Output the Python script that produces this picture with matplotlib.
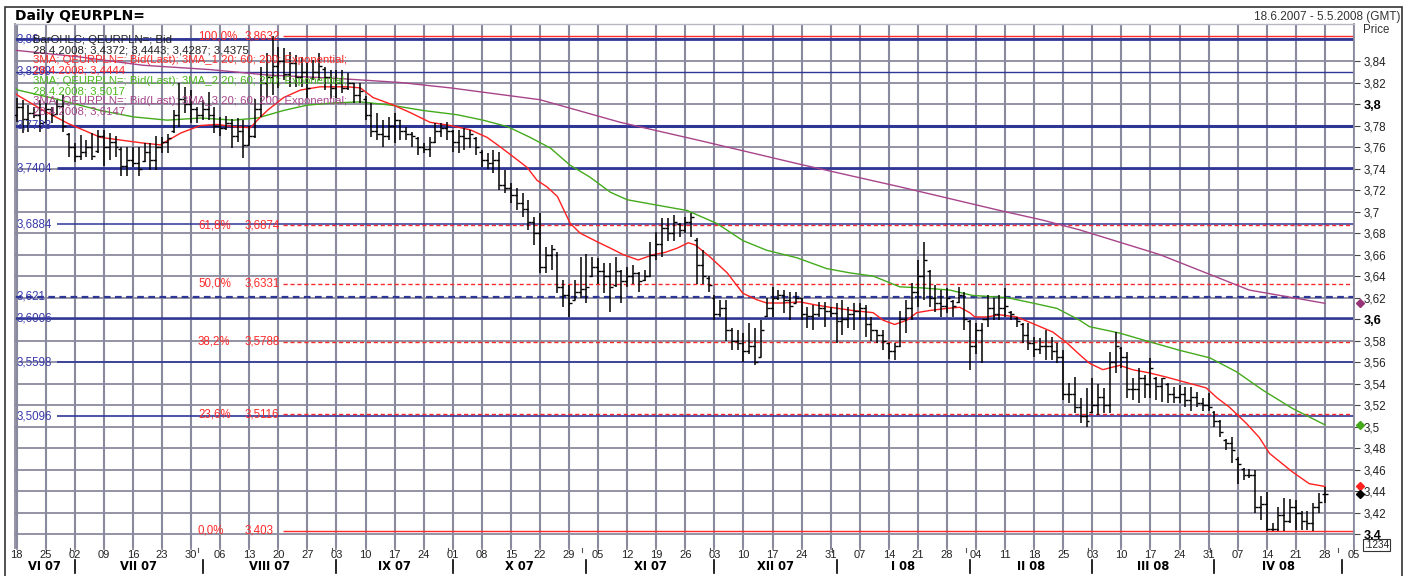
import numpy as np
import pandas as pd
import matplotlib
matplotlib.use("Agg")
import matplotlib.pyplot as plt
import matplotlib.transforms as mtransforms
from matplotlib.patches import Rectangle
from matplotlib.lines import Line2D

plt.rcParams['font.family'] = ['Liberation Sans', 'DejaVu Sans']

# ---------------- data ----------------
START = "2007-06-18"
END = "2008-04-28"
AXIS_END = "2008-05-05"

opens = [
    3.790, 3.797, 3.786, 3.792, 3.790,
    3.783, 3.795, 3.791, 3.798, 3.772,
    3.760, 3.752, 3.755, 3.760, 3.756,
    3.770, 3.760, 3.765, 3.758, 3.742,
    3.748, 3.745, 3.747, 3.755, 3.748,
    3.760, 3.765, 3.775, 3.790, 3.805,
    3.800, 3.795, 3.790, 3.795, 3.790,
    3.780, 3.778, 3.782, 3.770, 3.775,
    3.762, 3.770, 3.795, 3.820, 3.825,
    3.835, 3.840, 3.828, 3.838, 3.825,
    3.830, 3.824, 3.830, 3.833, 3.825,
    3.815, 3.820, 3.815, 3.820, 3.808,
    3.805, 3.790, 3.775, 3.772, 3.770,
    3.780, 3.785, 3.775, 3.772, 3.768,
    3.760, 3.758, 3.765, 3.775, 3.778,
    3.775, 3.765, 3.770, 3.768, 3.768,
    3.755, 3.748, 3.745, 3.748, 3.725,
    3.722, 3.715, 3.708, 3.702, 3.690,
    3.680, 3.648, 3.660, 3.660, 3.630,
    3.622, 3.618, 3.625, 3.628, 3.640,
    3.648, 3.645, 3.640, 3.632, 3.645,
    3.635, 3.640, 3.643, 3.636, 3.640,
    3.660, 3.670, 3.685, 3.680, 3.688,
    3.683, 3.690, 3.674, 3.650, 3.638,
    3.620, 3.605, 3.610, 3.590, 3.580,
    3.578, 3.570, 3.575, 3.565, 3.603,
    3.610, 3.620, 3.622, 3.618, 3.615,
    3.620, 3.605, 3.603, 3.605, 3.610,
    3.608, 3.606, 3.598, 3.600, 3.605,
    3.608, 3.610, 3.595, 3.590, 3.585,
    3.578, 3.570, 3.575, 3.600, 3.610,
    3.625, 3.640, 3.645, 3.620, 3.615,
    3.612, 3.617, 3.616, 3.622, 3.598,
    3.575, 3.590, 3.600, 3.610, 3.605,
    3.610, 3.607, 3.601, 3.595, 3.585,
    3.578, 3.572, 3.575, 3.575, 3.570,
    3.565, 3.530, 3.530, 3.518, 3.510,
    3.514, 3.520, 3.528, 3.520, 3.560,
    3.573, 3.565, 3.535, 3.535, 3.545,
    3.540, 3.545, 3.538, 3.540, 3.530,
    3.528, 3.530, 3.525, 3.528, 3.522,
    3.520, 3.514, 3.505, 3.488, 3.485,
    3.470, 3.461, 3.455, 3.455, 3.425,
    3.428, 3.405, 3.405, 3.418, 3.412,
    3.425, 3.420, 3.412, 3.410, 3.425,
    3.4372,
]
highs = [
    3.806, 3.804, 3.799, 3.797, 3.804,
    3.801, 3.797, 3.804, 3.808, 3.773,
    3.764, 3.771, 3.767, 3.773, 3.776,
    3.776, 3.773, 3.770, 3.760, 3.760,
    3.760, 3.760, 3.764, 3.764, 3.770,
    3.769, 3.772, 3.794, 3.820, 3.816,
    3.813, 3.797, 3.804, 3.811, 3.797,
    3.788, 3.789, 3.786, 3.787, 3.785,
    3.780, 3.805, 3.834, 3.847, 3.8632,
    3.853, 3.852, 3.848, 3.846, 3.844,
    3.838, 3.841, 3.847, 3.834, 3.832,
    3.832, 3.832, 3.829, 3.820, 3.820,
    3.807, 3.801, 3.792, 3.785, 3.788,
    3.792, 3.785, 3.779, 3.774, 3.769,
    3.764, 3.769, 3.782, 3.782, 3.783,
    3.776, 3.776, 3.778, 3.776, 3.769,
    3.757, 3.754, 3.757, 3.755, 3.739,
    3.727, 3.722, 3.717, 3.711, 3.695,
    3.699, 3.667, 3.669, 3.662, 3.636,
    3.632, 3.636, 3.658, 3.661, 3.658,
    3.657, 3.652, 3.652, 3.658, 3.646,
    3.648, 3.650, 3.644, 3.646, 3.672,
    3.681, 3.694, 3.694, 3.697, 3.689,
    3.695, 3.699, 3.675, 3.664, 3.640,
    3.622, 3.618, 3.618, 3.592, 3.590,
    3.587, 3.596, 3.592, 3.599, 3.620,
    3.630, 3.627, 3.627, 3.625, 3.625,
    3.620, 3.611, 3.613, 3.616, 3.616,
    3.611, 3.615, 3.618, 3.611, 3.615,
    3.615, 3.613, 3.602, 3.590, 3.590,
    3.578, 3.578, 3.608, 3.618, 3.634,
    3.655, 3.672, 3.646, 3.632, 3.627,
    3.629, 3.618, 3.630, 3.625, 3.599,
    3.596, 3.596, 3.622, 3.620, 3.622,
    3.629, 3.608, 3.602, 3.596, 3.596,
    3.583, 3.582, 3.590, 3.583, 3.578,
    3.571, 3.541, 3.546, 3.527, 3.536,
    3.545, 3.540, 3.536, 3.569, 3.588,
    3.574, 3.569, 3.545, 3.555, 3.548,
    3.564, 3.546, 3.545, 3.541, 3.537,
    3.539, 3.537, 3.537, 3.532, 3.527,
    3.531, 3.515, 3.506, 3.489, 3.490,
    3.472, 3.462, 3.461, 3.460, 3.436,
    3.439, 3.410, 3.425, 3.434, 3.433,
    3.432, 3.422, 3.422, 3.429, 3.438,
    3.4443,
]
lows = [
    3.783, 3.773, 3.774, 3.787, 3.774,
    3.782, 3.782, 3.790, 3.774, 3.751,
    3.746, 3.748, 3.751, 3.748, 3.754,
    3.742, 3.748, 3.751, 3.733, 3.733,
    3.741, 3.733, 3.746, 3.739, 3.739,
    3.754, 3.754, 3.773, 3.779, 3.792,
    3.782, 3.782, 3.785, 3.785, 3.773,
    3.770, 3.776, 3.759, 3.765, 3.750,
    3.762, 3.768, 3.788, 3.806, 3.808,
    3.815, 3.822, 3.816, 3.816, 3.816,
    3.806, 3.822, 3.822, 3.813, 3.806,
    3.806, 3.810, 3.813, 3.801, 3.801,
    3.785, 3.769, 3.767, 3.760, 3.767,
    3.764, 3.767, 3.767, 3.760, 3.753,
    3.754, 3.751, 3.764, 3.769, 3.767,
    3.755, 3.754, 3.757, 3.759, 3.753,
    3.741, 3.740, 3.736, 3.720, 3.717,
    3.708, 3.701, 3.695, 3.683, 3.669,
    3.643, 3.643, 3.646, 3.624, 3.611,
    3.602, 3.618, 3.620, 3.615, 3.639,
    3.633, 3.624, 3.607, 3.630, 3.615,
    3.630, 3.633, 3.625, 3.635, 3.639,
    3.655, 3.658, 3.673, 3.673, 3.676,
    3.680, 3.676, 3.633, 3.633, 3.625,
    3.599, 3.602, 3.580, 3.571, 3.571,
    3.560, 3.568, 3.557, 3.565, 3.602,
    3.602, 3.618, 3.606, 3.599, 3.615,
    3.599, 3.592, 3.590, 3.602, 3.593,
    3.602, 3.578, 3.585, 3.592, 3.590,
    3.599, 3.583, 3.580, 3.578, 3.571,
    3.563, 3.562, 3.574, 3.587, 3.599,
    3.611, 3.618, 3.611, 3.607, 3.602,
    3.606, 3.602, 3.615, 3.590, 3.553,
    3.568, 3.559, 3.593, 3.599, 3.599,
    3.602, 3.599, 3.593, 3.578, 3.571,
    3.565, 3.568, 3.562, 3.562, 3.559,
    3.525, 3.522, 3.513, 3.503, 3.500,
    3.513, 3.511, 3.513, 3.513, 3.550,
    3.555, 3.527, 3.525, 3.522, 3.527,
    3.527, 3.525, 3.523, 3.522, 3.522,
    3.522, 3.518, 3.515, 3.518, 3.515,
    3.515, 3.500, 3.490, 3.478, 3.466,
    3.447, 3.450, 3.452, 3.420, 3.413,
    3.403, 3.403, 3.403, 3.403, 3.410,
    3.404, 3.404, 3.404, 3.403, 3.420,
    3.4287,
]
closes = [
    3.797, 3.786, 3.792, 3.790, 3.782,
    3.795, 3.790, 3.798, 3.780, 3.760,
    3.752, 3.755, 3.760, 3.752, 3.770,
    3.760, 3.765, 3.760, 3.742, 3.748,
    3.745, 3.740, 3.755, 3.748, 3.760,
    3.765, 3.768, 3.790, 3.805, 3.800,
    3.795, 3.790, 3.795, 3.790, 3.780,
    3.778, 3.782, 3.770, 3.775, 3.762,
    3.770, 3.795, 3.820, 3.825, 3.835,
    3.840, 3.828, 3.838, 3.825, 3.830,
    3.815, 3.830, 3.835, 3.825, 3.815,
    3.820, 3.815, 3.820, 3.808, 3.812,
    3.790, 3.775, 3.772, 3.770, 3.780,
    3.785, 3.775, 3.772, 3.770, 3.760,
    3.758, 3.765, 3.775, 3.778, 3.775,
    3.765, 3.770, 3.768, 3.772, 3.760,
    3.748, 3.745, 3.748, 3.725, 3.722,
    3.715, 3.708, 3.702, 3.690, 3.680,
    3.648, 3.660, 3.665, 3.630, 3.622,
    3.615, 3.625, 3.628, 3.630, 3.648,
    3.645, 3.640, 3.630, 3.645, 3.635,
    3.640, 3.643, 3.635, 3.640, 3.660,
    3.670, 3.685, 3.680, 3.690, 3.683,
    3.690, 3.695, 3.650, 3.640, 3.632,
    3.605, 3.610, 3.590, 3.580, 3.578,
    3.570, 3.575, 3.560, 3.590, 3.610,
    3.620, 3.622, 3.618, 3.612, 3.620,
    3.605, 3.603, 3.605, 3.610, 3.608,
    3.606, 3.598, 3.600, 3.605, 3.608,
    3.610, 3.595, 3.590, 3.585, 3.580,
    3.570, 3.575, 3.600, 3.610, 3.625,
    3.640, 3.655, 3.620, 3.615, 3.612,
    3.620, 3.612, 3.622, 3.600, 3.575,
    3.590, 3.600, 3.610, 3.605, 3.610,
    3.612, 3.605, 3.598, 3.585, 3.578,
    3.572, 3.575, 3.575, 3.570, 3.565,
    3.530, 3.530, 3.518, 3.510, 3.505,
    3.520, 3.528, 3.520, 3.560, 3.575,
    3.565, 3.535, 3.535, 3.545, 3.540,
    3.555, 3.538, 3.545, 3.530, 3.528,
    3.530, 3.525, 3.528, 3.522, 3.520,
    3.518, 3.505, 3.495, 3.485, 3.478,
    3.465, 3.455, 3.455, 3.425, 3.428,
    3.405, 3.405, 3.418, 3.412, 3.425,
    3.420, 3.412, 3.410, 3.425, 3.430,
    3.4375,
]

# moving averages (bar index, value)
ema1_idx = [-0.29, 0.2, 4.6, 8.8, 14.4, 21.3, 24.7, 28.2, 31.6, 34.5,
            37.3, 40.2, 41.4, 43.1, 45.9, 48.8, 52.2, 56.9, 59.1, 61.3,
            64.8, 67.7, 71.1, 74.6, 78.0, 80.9, 83.2, 85.4, 87.8, 89.5,
            91.2, 93.0, 95.2, 96.9, 99.8, 102.1, 104.3, 106.9, 109.5, 111.5,
            113.6, 115.5, 116.7, 119.2, 122.2, 124.9, 127.3, 129.0, 131.8, 134.7,
            137.6, 139.9, 143.8, 147.3, 149.0, 151.0, 153.1, 154.8, 157.0, 160.0,
            162.2, 163.9, 164.8, 166.8, 169.1, 172.0, 174.7, 178.2, 180.6, 182.8,
            184.5, 186.8, 189.7, 191.9, 194.8, 197.8, 201.2, 204.6, 206.4, 208.6,
            211.5, 213.7, 215.5, 219.4, 222.3, 225]
ema1_val = [3.810, 3.808, 3.794, 3.782, 3.769, 3.764, 3.762, 3.773, 3.780, 3.781,
            3.779, 3.778, 3.785, 3.794, 3.806, 3.813, 3.816, 3.816, 3.815, 3.806,
            3.799, 3.792, 3.783, 3.780, 3.776, 3.769, 3.760, 3.751, 3.741, 3.729,
            3.723, 3.714, 3.689, 3.680, 3.672, 3.666, 3.660, 3.655, 3.660, 3.662,
            3.666, 3.671, 3.669, 3.658, 3.643, 3.624, 3.618, 3.615, 3.615, 3.616,
            3.613, 3.611, 3.608, 3.606, 3.599, 3.595, 3.599, 3.606, 3.608, 3.610,
            3.611, 3.606, 3.602, 3.602, 3.604, 3.602, 3.596, 3.588, 3.578, 3.567,
            3.559, 3.553, 3.557, 3.553, 3.550, 3.546, 3.541, 3.536, 3.527, 3.518,
            3.503, 3.490, 3.475, 3.458, 3.447, 3.4444]
ema2_idx = [-0.29, 0.2, 5.8, 14.4, 20.1, 25.9, 31.6, 37.3, 41.4, 45.9,
            50.0, 54.5, 59.1, 64.3, 69.9, 75.8, 80.2, 84.4, 88.3, 91.8,
            95.2, 98.6, 102.1, 105.0, 110.1, 115.3, 120.4, 124.9, 129.0, 134.2,
            139.3, 143.3, 147.3, 151.9, 155.8, 160.5, 164.4, 170.3, 174.7, 178.9,
            182.8, 184.5, 189.7, 194.8, 200.0, 205.2, 209.8, 214.3, 219.4, 225]
ema2_val = [3.815, 3.813, 3.806, 3.794, 3.788, 3.785, 3.787, 3.785, 3.787, 3.794,
            3.799, 3.801, 3.802, 3.799, 3.794, 3.790, 3.785, 3.779, 3.769, 3.759,
            3.743, 3.732, 3.718, 3.711, 3.706, 3.701, 3.689, 3.673, 3.664, 3.657,
            3.647, 3.643, 3.640, 3.630, 3.629, 3.627, 3.622, 3.620, 3.615, 3.610,
            3.599, 3.593, 3.587, 3.579, 3.571, 3.564, 3.551, 3.534, 3.517, 3.5017]
ema3_idx = [-0.29, 10.5, 21.8, 33.3, 43.1, 54.5, 66.0, 74.6, 90.0, 103.8,
            117.5, 134.7, 151.9, 169.1, 176.5, 182.8, 196.6, 212.0, 225]
ema3_val = [3.850, 3.844, 3.836, 3.832, 3.827, 3.824, 3.820, 3.815, 3.804, 3.783,
            3.766, 3.744, 3.723, 3.701, 3.692, 3.683, 3.660, 3.627, 3.6147]

level_vals = [3.86, 3.8299, 3.7798, 3.7404, 3.6884, 3.621, 3.6006, 3.5598, 3.5096]
level_text = ["3,86", "3,8299", "3,7798", "3,7404", "3,6884", "3,621", "3,6006", "3,5598", "3,5096"]

fib_vals = [3.8632, 3.6874, 3.6331, 3.5788, 3.5116, 3.403]
fib_pct = ["100,0%", "61,8%", "50,0%", "38,2%", "23,6%", "0,0%"]
fib_text = ["3,8632", "3,6874", "3,6331", "3,5788", "3,5116", "3,403"]

yticks = [3.40, 3.42, 3.44, 3.46, 3.48, 3.50, 3.52, 3.54, 3.56, 3.58, 3.60,
          3.62, 3.64, 3.66, 3.68, 3.70, 3.72, 3.74, 3.76, 3.78, 3.80, 3.82, 3.84]
ylabels = ["3,4", "3,42", "3,44", "3,46", "3,48", "3,5", "3,52", "3,54", "3,56", "3,58", "3,6",
           "3,62", "3,64", "3,66", "3,68", "3,7", "3,72", "3,74", "3,76", "3,78", "3,8", "3,82", "3,84"]
bold_labels = ["3,4", "3,6", "3,8"]

month_labels = ["VI 07", "VII 07", "VIII 07", "IX 07", "X 07", "XI 07",
                "XII 07", "I 08", "II 08", "III 08", "IV 08"]

legend_lines = [
    ("BarOHLC; QEURPLN=; Bid", "#222222"),
    ("28.4.2008; 3,4372; 3,4443; 3,4287; 3,4375", "#222222"),
    ("3MA; QEURPLN=; Bid(Last); 3MA_1 20; 60; 200; Exponential;", "#ff2a2a"),
    ("28.4.2008; 3,4444", "#ff2a2a"),
    ("3MA; QEURPLN=; Bid(Last); 3MA_2 20; 60; 200; Exponential;", "#4cb81e"),
    ("28.4.2008; 3,5017", "#4cb81e"),
    ("3MA; QEURPLN=; Bid(Last); 3MA_3 20; 60; 200; Exponential;", "#a8448a"),
    ("28.4.2008; 3,6147", "#a8448a"),
]

# ---------------- layout ----------------
W, H = 1408, 576
fig = plt.figure(figsize=(W / 100, H / 100), dpi=100)
fig.patch.set_facecolor("white")
PL, PR, PT, PB = 15, 1354, 24, 548
ax = fig.add_axes([PL / W, 1 - PB / H, (PR - PL) / W, (PB - PT) / H])
XMIN, XMAX = -0.29, 230.0
YMIN = 3.84 - (PB - 61) / 1075.5
YMAX = 3.84 + (61 - PT) / 1075.5
ax.set_xlim(XMIN, XMAX)
ax.set_ylim(YMIN, YMAX)


def px2i(px):
    return XMIN + (px - PL) * (XMAX - XMIN) / (PR - PL)


def fx(px):
    return px / W


def fy(py):
    return 1 - py / H


start = np.datetime64(START, "D")
bar_dates = pd.bdate_range(START, END).values.astype("datetime64[D]")
xb = np.busday_count(start, bar_dates).astype(float)
mondays = pd.date_range(START, AXIS_END, freq="W-MON")
mon_x = np.busday_count(start, mondays.values.astype("datetime64[D]"))
month_starts = pd.date_range("2007-07-01", "2008-05-01", freq="BMS")
ms_x = np.busday_count(start, month_starts.values.astype("datetime64[D]"))

GRID = "#8a8a9e"
BLUE = "#2f3796"
RED = "#ff2a2a"
BOLDFONT = ["DejaVu Sans"]

# grid
for mx in mon_x:
    ax.axvline(mx, color=GRID, lw=1.5, zorder=0.5)
for yv in yticks + [3.86]:
    ax.axhline(yv, color=GRID, lw=1.3, zorder=0.5)

# blue levels
level_style = {
    3.86: dict(lw=2.0, ls="-", x0=XMIN),
    3.8299: dict(lw=1.0, ls="-", x0=XMIN),
    3.7798: dict(lw=2.2, ls="-", x0=XMIN),
    3.7404: dict(lw=2.0, ls="-", x0=px2i(57)),
    3.6884: dict(lw=1.1, ls="-", x0=px2i(57)),
    3.621: dict(lw=1.6, ls=(0, (3, 2)), x0=XMIN),
    3.6006: dict(lw=1.8, ls="-", x0=XMIN),
    3.5598: dict(lw=1.2, ls="-", x0=px2i(57)),
    3.5096: dict(lw=1.2, ls="-", x0=px2i(57)),
}
for v, t in zip(level_vals, level_text):
    st = level_style[v]
    ax.hlines(v, st["x0"], XMAX, color=BLUE, lw=st["lw"], linestyles=st["ls"], zorder=1)
    ax.text(px2i(16.5), v, t, color="#3a3aaa", fontsize=8.3, va="center", ha="left", zorder=5)

# fibonacci
for i, (v, p, t) in enumerate(zip(fib_vals, fib_pct, fib_text)):
    ls = "-" if i in (0, len(fib_vals) - 1) else (0, (3, 2))
    ax.hlines(v, px2i(283), XMAX, color=RED, lw=1.0, linestyles=ls, zorder=1.2)
    ax.text(px2i(198), v, p, color=RED, fontsize=8.3, va="center", ha="left", zorder=5)
    ax.text(px2i(245), v, t, color=RED, fontsize=8.3, va="center", ha="left", zorder=5)

# moving averages
ax.plot(ema3_idx, ema3_val, color="#a8448a", lw=1.0, zorder=2)
ax.plot(ema2_idx, ema2_val, color="#44aa1c", lw=1.0, zorder=2)
ax.plot(ema1_idx, ema1_val, color="#ff2020", lw=1.0, zorder=2.1)

# OHLC bars
tick = 0.5
ax.vlines(xb, lows, highs, color="black", lw=1.1, zorder=3)
ax.hlines(opens, xb - tick, xb, color="black", lw=1.0, zorder=3)
ax.hlines(closes, xb, xb + tick, color="black", lw=1.0, zorder=3)

# last-value markers on the right axis
mk_x = px2i(1360)
ax.plot([mk_x], [ema3_val[-1]], marker="D", ms=4.5, color="#993377", clip_on=False, zorder=6)
ax.plot([mk_x], [ema2_val[-1]], marker="D", ms=4.5, color="#44aa1c", clip_on=False, zorder=6)
ax.plot([mk_x], [ema1_val[-1]], marker="D", ms=4.5, color="#ff2020", clip_on=False, zorder=6)
ax.plot([mk_x], [closes[-1]], marker="D", ms=4.5, color="black", clip_on=False, zorder=6)

# axes styling
for s in ["left", "right"]:
    ax.spines[s].set_color(GRID)
    ax.spines[s].set_linewidth(1.3)
ax.spines["top"].set_color("#b8b8c4")
ax.spines["top"].set_linewidth(1.0)
ax.spines["bottom"].set_visible(False)

ax.yaxis.tick_right()
ax.set_yticks(yticks)
ax.set_yticklabels(ylabels)
ax.tick_params(axis="y", length=4, width=0.8, color="#444444", pad=3,
               labelsize=8.4, labelcolor="#222222")
for lab in ax.get_yticklabels():
    if lab.get_text() in bold_labels:
        lab.set_fontweight("bold")
        lab.set_fontsize(9.2)
        lab.set_color("black")

ax.set_xticks(mon_x)
ax.set_xticklabels([d.strftime("%d") for d in mondays])
ax.tick_params(axis="x", length=1.5, width=1.3, color=GRID, pad=0.3,
               labelsize=8, labelcolor="#222222")

trans = mtransforms.blended_transform_factory(ax.transData, ax.transAxes)
yl = lambda py: (PB - py) / (PB - PT)
bounds = [XMIN] + list(ms_x)
for k, lab in enumerate(month_labels):
    cx = (bounds[k] + bounds[k + 1]) / 2
    ax.text(cx, yl(567), lab, transform=trans, ha="center", va="center",
            fontsize=8.3, fontweight="bold", family=BOLDFONT, clip_on=False)
for mx in ms_x:
    ax.add_line(Line2D([mx, mx], [yl(560), yl(573)], transform=trans, color="black",
                       lw=1.2, clip_on=False))
    ax.add_line(Line2D([mx - 0.8, mx - 0.8], [yl(548), yl(552)], transform=trans,
                       color="#555555", lw=0.8, clip_on=False))

# legend / header texts
for k, (txt, col) in enumerate(legend_lines):
    fig.text(fx(33), fy(40 + 10.2 * k), txt, color=col, fontsize=8.2, va="center", ha="left", zorder=7)

fig.text(fx(15), fy(16), "Daily QEURPLN=", fontsize=10, fontweight="bold", family=BOLDFONT,
         va="center", ha="left")
fig.text(fx(1400), fy(17), "18.6.2007 - 5.5.2008 (GMT)", fontsize=8.5, color="#333333",
         va="center", ha="right")
fig.text(fx(1363), fy(30), "Price", fontsize=8.3, color="#333333", va="center", ha="left")
fig.text(fx(1364), fy(545), ".1234", fontsize=7.2, color="#222222", va="center", ha="left",
         bbox=dict(boxstyle="square,pad=0.08", fc="white", ec="#333333", lw=0.8))

# outer frame
fig.add_artist(Rectangle((fx(5), -0.05), (1402 - 5) / W, 1.05 - 6.5 / H,
                         transform=fig.transFigure, fill=False, ec="#333333", lw=1.2))

fig.savefig("out.png", dpi=100)
